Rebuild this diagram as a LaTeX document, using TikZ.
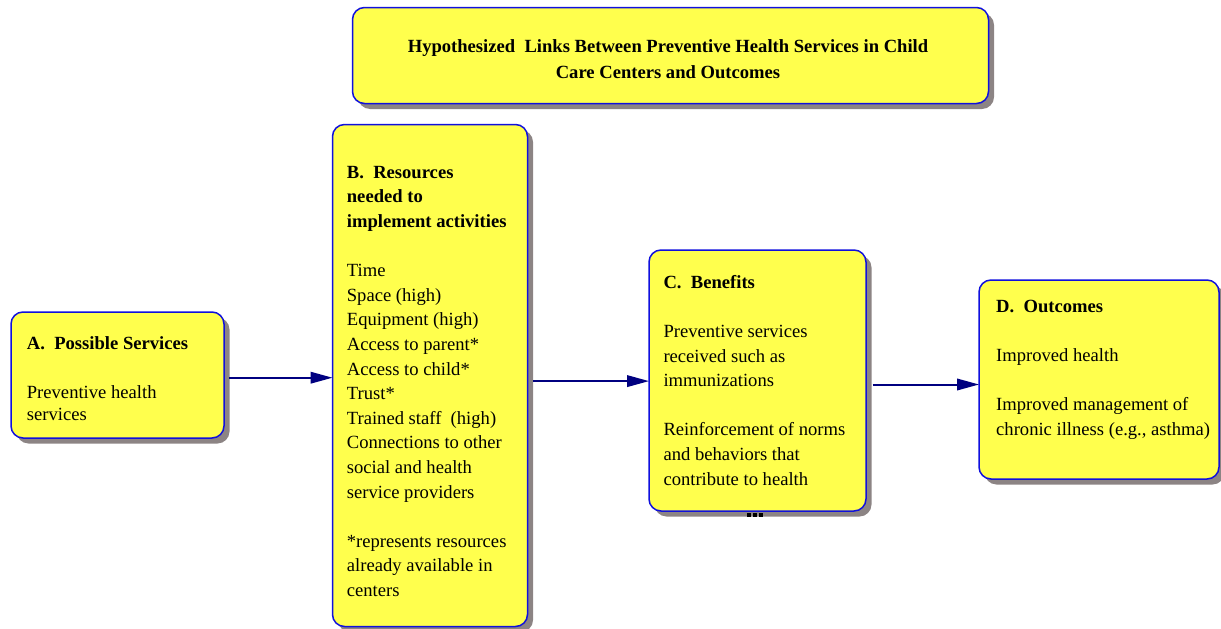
\documentclass[tikz,border=0pt]{standalone}
\usepackage{fontspec}
\setmainfont{Liberation Serif}
\usetikzlibrary{shadows,arrows.meta}
\definecolor{boxyellow}{HTML}{FFFF4D}
\definecolor{boxblue}{HTML}{1010DD}
\definecolor{shadowgray}{HTML}{8C8484}
\definecolor{arrownavy}{HTML}{000080}
\tikzset{
  box/.style={draw=boxblue, line width=1.5pt, fill=boxyellow, rounded corners=12pt,
    inner sep=0pt, outer sep=0pt, anchor=north west,
    drop shadow={shadow xshift=5.5pt, shadow yshift=-5.5pt, fill=shadowgray, opacity=1}},
  txt/.style={font=\fontsize{18.6}{24.6}\selectfont, align=left, inner sep=0pt, anchor=north west},
  ttl/.style={font=\fontsize{18.6}{26}\selectfont\bfseries, align=center, inner sep=0pt},
  arr/.style={draw=arrownavy, line width=2pt, -{Triangle[length=22pt,width=11.5pt]}},
  dot/.style={fill=black, inner sep=0pt, minimum size=4pt}
}
\begin{document}
\begin{tikzpicture}[x=1pt,y=-1pt]
\useasboundingbox (0,0) rectangle (1221,629);
% boxes
\node[box, minimum width=636pt, minimum height=96pt] (T) at (352.5,7.5) {};
\node[box, minimum width=213pt, minimum height=126pt] (A) at (11,312) {};
\node[box, minimum width=195pt, minimum height=502pt] (B) at (332.5,124.5) {};
\node[box, minimum width=217pt, minimum height=261pt] (C) at (649,250) {};
\node[box, minimum width=240pt, minimum height=199pt] (D) at (979,280) {};
% texts
\node[ttl] (Tt) at (668,59) {Hypothesized\ \ Links Between Preventive Health Services in Child\\Care Centers and Outcomes};
\node[txt] (At) at (26.7,336) {\textbf{A.\ \ Possible Services}\\[24.6pt]Preventive health\\[-2pt]services};
\node[txt] (Bt) at (346.7,166) {\textbf{B.\ \ Resources}\\\textbf{needed to}\\\textbf{implement activities}\\[24.6pt]
Time\\Space (high)\\Equipment (high)\\Access to parent*\\Access to child*\\Trust*\\Trained staff\ \ (high)\\Connections to other\\social and health\\service providers\\[24.6pt]
*represents resources\\already available in\\centers};
\node[txt] (Ct) at (663.3,275) {\textbf{C.\ \ Benefits}\\[24.6pt]Preventive services\\received such as\\immunizations\\[24.6pt]Reinforcement of norms\\and behaviors that\\contribute to health};
\node[txt] (Dt) at (996,300) {\textbf{D.\ \ Outcomes}\\[24.6pt]Improved health\\[24.6pt]Improved management of\\chronic illness (e.g., asthma)};
% connectors
\draw[arr, shorten <=5pt] ([yshift=-2.7pt]A.east) -- ([yshift=-2.7pt]A.east -| B.west);
\draw[arr, shorten <=5.5pt] ([yshift=-0.6pt]B.east |- C.west) -- ([yshift=-0.6pt]C.west);
\draw[arr, shorten <=6.5pt] ([yshift=-5pt]C.east |- D.west) -- ([yshift=-5pt]D.west);
% small marks under C
\node[dot] (m1) at (749,514.7) {};
\node[dot] (m2) at (755,514.7) {};
\node[dot] (m3) at (761,514.7) {};
\end{tikzpicture}
\end{document}
